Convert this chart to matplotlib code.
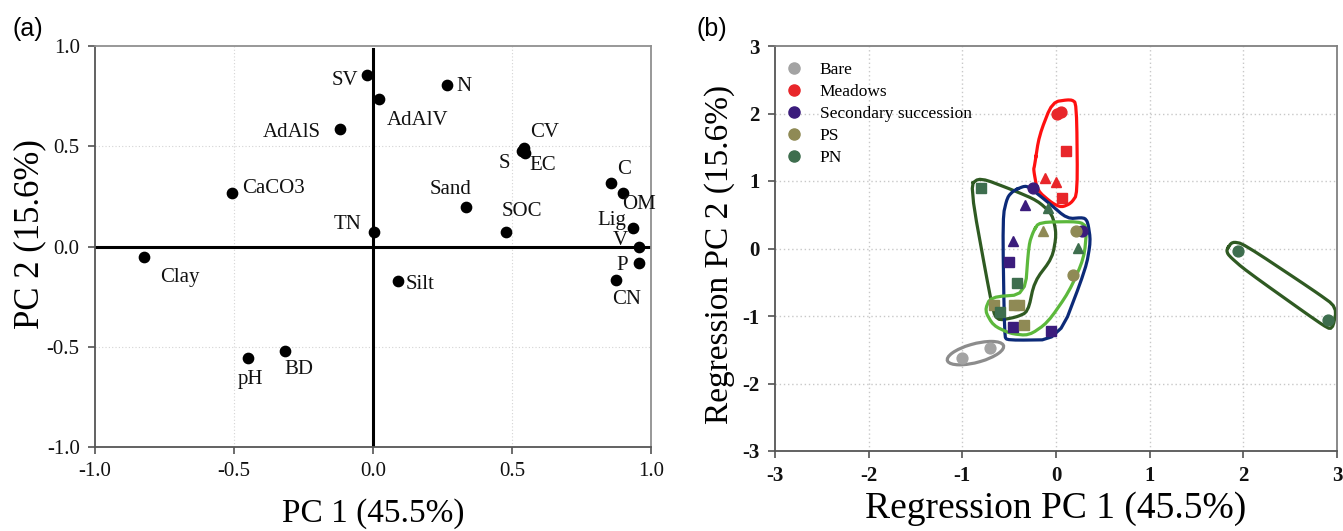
import numpy as np
import matplotlib
matplotlib.use("Agg")
import matplotlib.pyplot as plt
from matplotlib.lines import Line2D
from matplotlib.patches import Ellipse

# ---------------- Panel (a): PCA loadings ----------------
var_names = ["SV", "AdAlV", "N", "AdAlS", "CV", "S", "EC", "CaCO3", "Sand", "SOC",
             "TN", "C", "OM", "Lig", "V", "P", "CN", "Clay", "Silt", "pH", "BD"]
pc1_load = [-0.023, 0.023, 0.266, -0.118, 0.542, 0.535, 0.548, -0.506, 0.335, 0.479,
            0.003, 0.856, 0.898, 0.935, 0.957, 0.957, 0.875, -0.823, 0.090, -0.448, -0.318]
pc2_load = [0.856, 0.735, 0.807, 0.586, 0.490, 0.475, 0.465, 0.269, 0.196, 0.071,
            0.074, 0.316, 0.265, 0.093, 0.000, -0.081, -0.167, -0.052, -0.174, -0.554, -0.520]

ticks_a = [-1.0, -0.5, 0.0, 0.5, 1.0]
ticklabels_a = ["-1.0", "-0.5", "0.0", "0.5", "1.0"]

# ---------------- Panel (b): regression scores ----------------
group_names = ["Bare", "Meadows", "Secondary succession", "PS", "PN"]

bare_x = [-1.00, -0.70]
bare_y = [-1.62, -1.48]
bare_shape = ["circle", "circle"]

meadows_x = [0.01, 0.05, 0.11, -0.12, 0.00, 0.06]
meadows_y = [2.00, 2.02, 1.45, 1.04, 0.98, 0.75]
meadows_shape = ["circle", "circle", "square", "triangle", "triangle", "square"]

ss_x = [-0.25, 0.28, -0.33, -0.46, -0.50, -0.46, -0.05]
ss_y = [0.90, 0.26, 0.65, 0.11, -0.20, -1.17, -1.22]
ss_shape = ["circle", "circle", "triangle", "triangle", "square", "square", "square"]

ps_x = [0.21, 0.18, -0.14, -0.66, -0.45, -0.40, -0.34]
ps_y = [0.26, -0.39, 0.26, -0.83, -0.83, -0.83, -1.13]
ps_shape = ["circle", "circle", "triangle", "square", "square", "square", "square"]

pn_x = [1.94, 2.90, -0.09, 0.23, -0.80, -0.42, -0.60]
pn_y = [-0.03, -1.06, 0.60, 0.01, 0.89, -0.51, -0.94]
pn_shape = ["circle", "circle", "triangle", "triangle", "square", "square", "square"]

# hand-drawn group outlines (data coordinates)
meadows_hull_x = [-0.23, -0.18, -0.04, 0.16, 0.22, 0.23, 0.16, 0.06, -0.04, -0.20, -0.24]
meadows_hull_y = [1.22, 1.67, 2.17, 2.21, 2.15, 0.81, 0.67, 0.61, 0.67, 0.86, 1.17]

ss_hull_x = [-0.45, -0.33, -0.27, -0.09, 0.12, 0.30, 0.34, 0.37, 0.32, 0.03, -0.52, -0.55, -0.57, -0.52]
ss_hull_y = [0.86, 0.93, 0.89, 0.69, 0.44, 0.46, 0.39, 0.11, -0.29, -1.35, -1.36, -1.30, 0.46, 0.76]

ps_hull_x = [-0.24, -0.18, 0.25, 0.33, 0.30, 0.14, -0.09, -0.29, -0.49, -0.67, -0.76, -0.70, -0.33, -0.29]
ps_hull_y = [0.26, 0.39, 0.40, 0.32, -0.14, -0.64, -1.10, -1.29, -1.26, -1.14, -0.92, -0.72, -0.68, 0.06]

pn_hull1_x = [-0.92, -0.81, -0.45, -0.20, -0.04, 0.005, -0.04, -0.23, -0.30, -0.43, -0.64, -0.70]
pn_hull1_y = [0.94, 1.05, 0.86, 0.71, 0.51, 0.21, -0.14, -0.49, -0.94, -1.02, -1.07, -0.74]

pn_hull2_x = [1.82, 1.88, 2.00, 2.76, 3.00, 2.95, 2.83, 2.02, 1.84]
pn_hull2_y = [-0.02, 0.10, 0.07, -0.63, -0.87, -1.21, -1.12, -0.32, -0.10]

bare_ellipse = dict(center=(-0.86, -1.55), width=0.64, height=0.27, angle=22)

ticks_b = [-3, -2, -1, 0, 1, 2, 3]

# ---------------- styling ----------------
serif = ["Liberation Serif", "DejaVu Serif"]
plt.rcParams["font.family"] = serif
plt.rcParams["axes.unicode_minus"] = False

marker_map = {"circle": "o", "square": "s", "triangle": "^"}
marker_size = {"circle": 7.8, "square": 7.0, "triangle": 7.8}
group_colors = ["#a3a3a3", "#e8262a", "#3b1c7c", "#8f8a55", "#3e6e4e"]
hull_colors = {"Meadows": "#ff1010", "SS": "#0c2a78", "PS": "#5cb83c", "PN": "#2f5a22", "Bare": "#8c8c8c"}


def chaikin(xs, ys, n=2):
    pts = np.column_stack([xs, ys])
    for _ in range(n):
        nxt = np.roll(pts, -1, axis=0)
        q = 0.8 * pts + 0.2 * nxt
        r = 0.2 * pts + 0.8 * nxt
        pts = np.empty((2 * len(q), 2))
        pts[0::2] = q
        pts[1::2] = r
    pts = np.vstack([pts, pts[:1]])
    return pts[:, 0], pts[:, 1]


fig = plt.figure(figsize=(13.43, 5.31), dpi=100)
fig.patch.set_facecolor("white")

# ---------- Panel (a) ----------
axa = fig.add_axes([95 / 1343, 84 / 531, 556 / 1343, 401 / 531])
axa.set_xlim(-1, 1)
axa.set_ylim(-1, 1)
for g in [-0.5, 0.5]:
    axa.axvline(g, color="#d4d4d4", lw=0.8, ls=(0, (1, 2)), zorder=0)
    axa.axhline(g, color="#d4d4d4", lw=0.8, ls=(0, (1, 2)), zorder=0)
axa.plot([0, 0], [-1, 0.983], color="black", lw=2.2, zorder=1)
axa.plot([-1, 1], [0, 0], color="black", lw=2.2, zorder=1)
axa.scatter(pc1_load, pc2_load, s=55, color="black", zorder=3)

label_offsets = {
    "SV": (-8, -6, "right"), "AdAlV": (7, -21, "left"), "N": (9, -2, "left"),
    "AdAlS": (-19, -3, "right"), "CV": (6, 16, "left"), "S": (-12, -12, "right"),
    "EC": (4, -12, "left"), "CaCO3": (10, 4, "left"), "Sand": (-16, 18, "center"),
    "SOC": (16, 21, "center"), "TN": (-12, 7, "right"), "C": (6, 14, "left"),
    "OM": (-1, -11, "left"), "Lig": (-7, 7, "right"), "V": (-11, 6, "right"),
    "P": (-11, -3, "right"), "CN": (10, -20, "center"), "Clay": (16, -21, "left"),
    "Silt": (8, -3, "left"), "pH": (2, -22, "center"), "BD": (14, -19, "center"),
}
for name, x, y in zip(var_names, pc1_load, pc2_load):
    dx, dy, ha = label_offsets[name]
    axa.annotate(name, (x, y), xytext=(dx, dy), textcoords="offset pixels",
                 ha=ha, va="center", fontsize=15, color="#111111", zorder=4)

axa.set_xticks(ticks_a)
axa.set_xticklabels(ticklabels_a)
axa.set_yticks(ticks_a)
axa.set_yticklabels(ticklabels_a)
axa.tick_params(direction="out", length=5, width=1.1, labelsize=15, pad=6, colors="#444444",
                labelcolor="#111111")
axa.tick_params(top=False, right=False)
for side in ["left", "bottom"]:
    axa.spines[side].set_color("#555555")
    axa.spines[side].set_linewidth(1.3)
for side in ["top", "right"]:
    axa.spines[side].set_color("#909090")
    axa.spines[side].set_linewidth(1.3)
axa.set_xlabel("PC 1 (45.5%)", fontsize=24, labelpad=12)
axa.set_ylabel("PC 2 (15.6%)", fontsize=25)
axa.yaxis.set_label_coords(-0.088, 0.53)
fig.text(13 / 1343, 1 - 17 / 531, "(a)", fontsize=18, family=["Liberation Sans", "DejaVu Sans"],
         va="top", ha="left")

# ---------- Panel (b) ----------
axb = fig.add_axes([775 / 1343, 80 / 531, 562 / 1343, 405 / 531])
axb.set_xlim(-3, 3)
axb.set_ylim(-3, 3)
for g in [-2, -1, 0, 1, 2]:
    axb.axvline(g, color="#c8c8c8", lw=1.0, ls=(0, (1, 2)), zorder=0)
    axb.axhline(g, color="#c8c8c8", lw=1.0, ls=(0, (1, 2)), zorder=0)

hulls = [
    (meadows_hull_x, meadows_hull_y, hull_colors["Meadows"]),
    (pn_hull1_x, pn_hull1_y, hull_colors["PN"]),
    (ss_hull_x, ss_hull_y, hull_colors["SS"]),
    (ps_hull_x, ps_hull_y, hull_colors["PS"]),
    (pn_hull2_x, pn_hull2_y, hull_colors["PN"]),
]
for hx, hy, col in hulls:
    sx, sy = chaikin(hx, hy, n=2)
    axb.plot(sx, sy, color=col, lw=2.3, solid_joinstyle="round", zorder=2)
axb.add_patch(Ellipse(bare_ellipse["center"], bare_ellipse["width"], bare_ellipse["height"],
                      angle=bare_ellipse["angle"], fill=False, ec=hull_colors["Bare"], lw=2.3,
                      zorder=2))

groups = [
    (bare_x, bare_y, bare_shape),
    (meadows_x, meadows_y, meadows_shape),
    (ss_x, ss_y, ss_shape),
    (ps_x, ps_y, ps_shape),
    (pn_x, pn_y, pn_shape),
]
for (gx, gy, gs), col in zip(groups, group_colors):
    for x, y, s in zip(gx, gy, gs):
        axb.plot(x, y, marker=marker_map[s], ms=marker_size[s], color=col, mec=col,
                 ls="none", zorder=3)

handles = [Line2D([], [], marker="o", ls="none", ms=8, color=c, mec=c) for c in group_colors]
leg = axb.legend(handles, group_names, loc="upper left", bbox_to_anchor=(-0.004, 0.99),
                 frameon=False, fontsize=12.5, handlelength=1.0, handletextpad=1.0,
                 labelspacing=0.33, borderaxespad=0.3)

axb.set_xticks(ticks_b)
axb.set_yticks(ticks_b)
axb.tick_params(direction="out", length=5, width=1.1, labelsize=15, pad=6, colors="#444444",
                labelcolor="#111111")
for lab in axb.get_xticklabels() + axb.get_yticklabels():
    lab.set_fontweight("bold")
for side in ["left", "bottom"]:
    axb.spines[side].set_color("#555555")
    axb.spines[side].set_linewidth(1.3)
for side in ["top", "right"]:
    axb.spines[side].set_color("#808080")
    axb.spines[side].set_linewidth(1.3)
axb.set_xlabel("Regression PC 1 (45.5%)", fontsize=27, labelpad=4)
axb.set_ylabel("Regression PC 2 (15.6%)", fontsize=24)
axb.yaxis.set_label_coords(-0.072, 0.485)
fig.text(697 / 1343, 1 - 17 / 531, "(b)", fontsize=18, family=["Liberation Sans", "DejaVu Sans"],
         va="top", ha="left")

fig.savefig("out.png", dpi=100, facecolor="white")
